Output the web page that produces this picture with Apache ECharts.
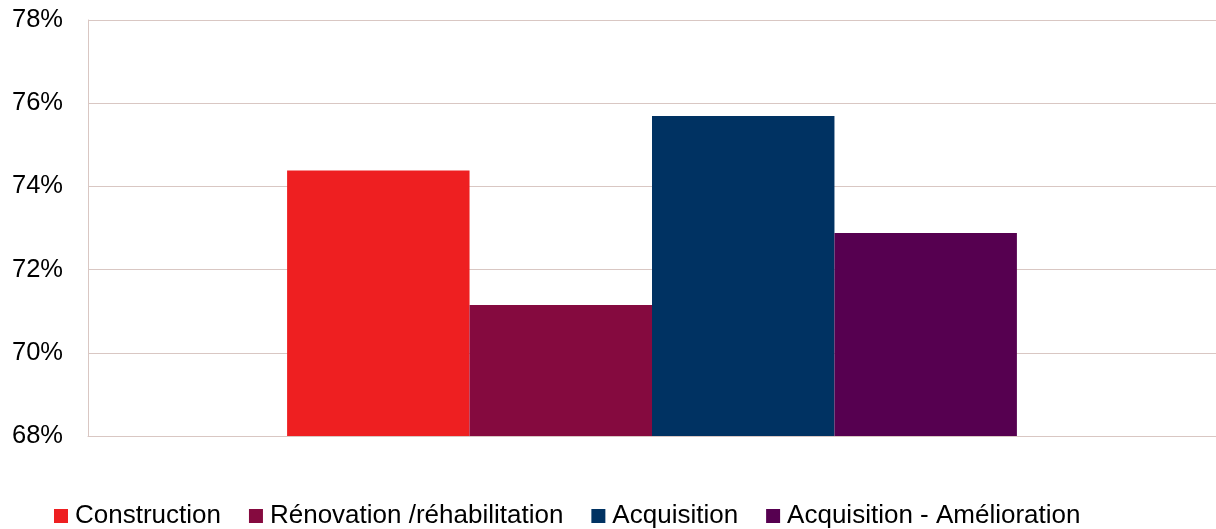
<!DOCTYPE html>
<html>
<head>
<meta charset="utf-8">
<script src="https://cdn.jsdelivr.net/npm/echarts@6/dist/echarts.min.js"></script>
<style>
  html, body { margin: 0; padding: 0; background: #fff; }
  #main { width: 1216px; height: 529px; }
</style>
</head>
<body>
<div id="main"></div>
<script>
// données
var categories = [''];
var seriesNames = ['Construction', 'Rénovation /réhabilitation', 'Acquisition', 'Acquisition - Amélioration'];
var construction = [74.38];
var renovation = [71.15];
var acquisition = [75.69];
var acqAmelioration = [72.88];
var seriesValues = [construction, renovation, acquisition, acqAmelioration];
var colors = ['#EE1F21', '#850A3F', '#003262', '#560050'];

var chart = echarts.init(document.getElementById('main'));

var series = seriesNames.map(function (name, i) {
    return {
        name: name,
        type: 'bar',
        data: seriesValues[i],
        barGap: '0%',
        barCategoryGap: '35.3%',
        itemStyle: { color: colors[i] }
    };
});

chart.setOption({
    animation: false,
    color: colors,
    textStyle: { fontFamily: 'Liberation Sans, Arial, sans-serif' },
    grid: {
        left: 88,
        right: 0,
        top: 20,
        bottom: 93
    },
    legend: {
        left: 54,
        top: 503,
        padding: 0,
        icon: 'rect',
        itemWidth: 14,
        itemHeight: 14,
        itemGap: 28,
        textStyle: {
            fontSize: 26,
            color: '#000',
            padding: [0, 0, 0, 2]
        },
        data: seriesNames
    },
    xAxis: {
        type: 'category',
        data: categories,
        axisLine: { show: true, lineStyle: { color: '#D9C7C3', width: 1 } },
        axisTick: { show: false },
        axisLabel: { show: false },
        splitLine: { show: false }
    },
    yAxis: {
        type: 'value',
        min: 68,
        max: 78,
        interval: 2,
        axisLine: { show: true, lineStyle: { color: '#D9C7C3', width: 1 } },
        axisTick: { show: false },
        axisLabel: {
            fontSize: 25.5,
            color: '#000',
            margin: 25,
            formatter: function (v) { return v + '%'; }
        },
        splitLine: { show: true, lineStyle: { color: '#D9C7C3', width: 1 } }
    },
    series: series
});
</script>
</body>
</html>
